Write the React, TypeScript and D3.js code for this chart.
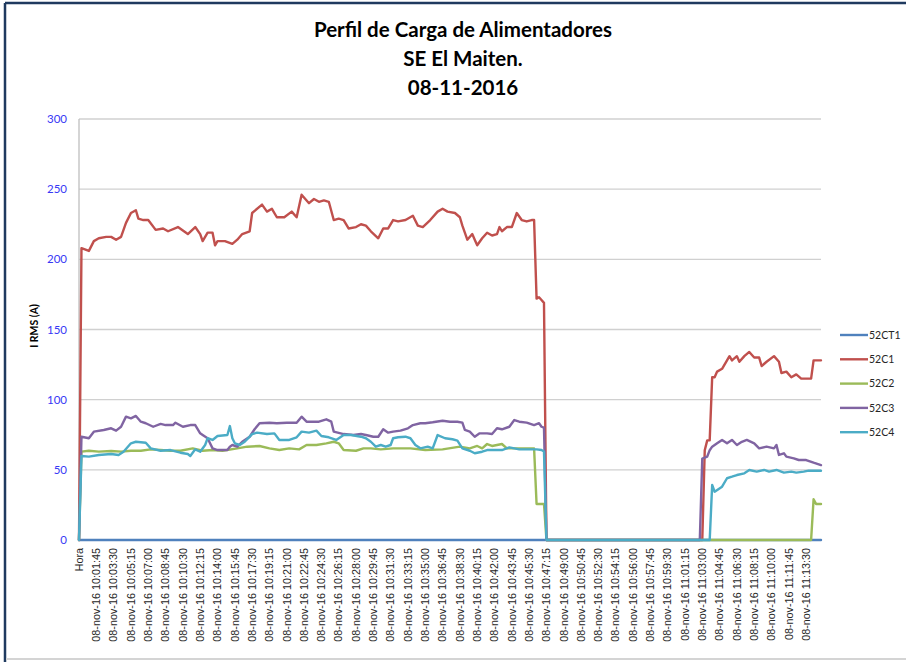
import * as d3 from "d3";

// Samples every 15 s; "Hora" is the header row that Excel plots as 0.
type Pt = [string, number];

const titleLines = ["Perfil de Carga de Alimentadores", "SE El Maiten.", "08-11-2016"];
const yTicks = [0, 50, 100, 150, 200, 250, 300];
const xLabels = [
  "Hora",
  "08-nov-16 10:01:45", "08-nov-16 10:03:30", "08-nov-16 10:05:15", "08-nov-16 10:07:00",
  "08-nov-16 10:08:45", "08-nov-16 10:10:30", "08-nov-16 10:12:15", "08-nov-16 10:14:00",
  "08-nov-16 10:15:45", "08-nov-16 10:17:30", "08-nov-16 10:19:15", "08-nov-16 10:21:00",
  "08-nov-16 10:22:45", "08-nov-16 10:24:30", "08-nov-16 10:26:15", "08-nov-16 10:28:00",
  "08-nov-16 10:29:45", "08-nov-16 10:31:30", "08-nov-16 10:33:15", "08-nov-16 10:35:00",
  "08-nov-16 10:36:45", "08-nov-16 10:38:30", "08-nov-16 10:40:15", "08-nov-16 10:42:00",
  "08-nov-16 10:43:45", "08-nov-16 10:45:30", "08-nov-16 10:47:15", "08-nov-16 10:49:00",
  "08-nov-16 10:50:45", "08-nov-16 10:52:30", "08-nov-16 10:54:15", "08-nov-16 10:56:00",
  "08-nov-16 10:57:45", "08-nov-16 10:59:30", "08-nov-16 11:01:15", "08-nov-16 11:03:00",
  "08-nov-16 11:04:45", "08-nov-16 11:06:30", "08-nov-16 11:08:15", "08-nov-16 11:10:00",
  "08-nov-16 11:11:45", "08-nov-16 11:13:30",
];
const lastSample = "11:15:00";

const s52CT1: Pt[] = [["Hora", 0], ["11:15:00", 0]];

const s52C1: Pt[] = [
  ["Hora", 0], ["10:00:15", 208], ["10:01:00", 206], ["10:01:30", 213], ["10:02:00", 215],
  ["10:02:45", 216], ["10:03:15", 216], ["10:03:45", 214], ["10:04:15", 216], ["10:04:45", 226],
  ["10:05:15", 233], ["10:05:45", 235], ["10:06:00", 229], ["10:06:30", 228], ["10:07:00", 228],
  ["10:07:45", 221], ["10:08:30", 222], ["10:09:00", 220], ["10:10:00", 223], ["10:11:00", 218],
  ["10:11:45", 223], ["10:12:15", 218], ["10:12:30", 213], ["10:13:00", 219], ["10:13:30", 219],
  ["10:13:45", 210], ["10:14:00", 213], ["10:14:45", 213], ["10:15:30", 211], ["10:16:00", 214],
  ["10:16:30", 218], ["10:17:15", 220], ["10:17:30", 233], ["10:18:30", 239], ["10:19:00", 234],
  ["10:19:30", 236], ["10:20:00", 230], ["10:20:45", 230], ["10:21:30", 234], ["10:22:00", 230],
  ["10:22:30", 246], ["10:23:15", 240], ["10:23:45", 243], ["10:24:15", 241], ["10:24:45", 242],
  ["10:25:15", 241], ["10:25:45", 228], ["10:26:15", 229], ["10:26:45", 228], ["10:27:15", 222],
  ["10:28:00", 223], ["10:28:30", 225], ["10:29:00", 224], ["10:29:30", 220], ["10:30:15", 215],
  ["10:30:45", 222], ["10:31:15", 222], ["10:31:45", 228], ["10:32:15", 227], ["10:33:00", 228],
  ["10:33:45", 231], ["10:34:15", 224], ["10:34:45", 223], ["10:35:30", 228], ["10:36:15", 234],
  ["10:36:45", 236], ["10:37:15", 234], ["10:38:00", 233], ["10:38:30", 230], ["10:38:45", 224],
  ["10:39:15", 214], ["10:39:45", 218], ["10:40:00", 214], ["10:40:15", 210], ["10:40:45", 215],
  ["10:41:15", 219], ["10:41:45", 217], ["10:42:15", 218], ["10:42:30", 223], ["10:42:45", 220],
  ["10:43:15", 223], ["10:43:45", 223], ["10:44:15", 233], ["10:44:45", 228], ["10:45:15", 227],
  ["10:45:45", 228], ["10:46:00", 228], ["10:46:15", 172], ["10:46:30", 173], ["10:46:45", 171],
  ["10:47:00", 169], ["10:47:15", 0], ["11:03:00", 0], ["11:03:15", 64], ["11:03:30", 71],
  ["11:03:45", 71], ["11:04:00", 116], ["11:04:15", 116], ["11:04:30", 120], ["11:05:00", 122],
  ["11:05:30", 128], ["11:05:45", 131], ["11:06:00", 128], ["11:06:30", 131], ["11:06:45", 127],
  ["11:07:15", 131], ["11:07:45", 134], ["11:08:15", 130], ["11:08:45", 130], ["11:09:00", 124],
  ["11:09:30", 127], ["11:10:15", 131], ["11:10:45", 127], ["11:11:00", 119], ["11:11:30", 120],
  ["11:12:00", 116], ["11:12:30", 118], ["11:13:00", 115], ["11:13:30", 115], ["11:14:00", 115],
  ["11:14:15", 128], ["11:15:00", 128],
];

const s52C2: Pt[] = [
  ["Hora", 0], ["10:00:15", 63], ["10:01:00", 63.6], ["10:02:00", 63], ["10:03:15", 63.4],
  ["10:04:15", 63], ["10:05:15", 63.6], ["10:06:15", 63.6], ["10:07:15", 64.6], ["10:08:15", 64.1],
  ["10:09:15", 63.6], ["10:10:15", 63.6], ["10:11:30", 65.3], ["10:12:30", 63.6], ["10:13:30", 64.1],
  ["10:14:30", 63.6], ["10:16:00", 65.3], ["10:17:00", 66.5], ["10:18:15", 67], ["10:19:15", 65.3],
  ["10:20:15", 64.1], ["10:21:15", 65.3], ["10:22:15", 64.6], ["10:23:00", 67.7], ["10:24:00", 67.7],
  ["10:25:00", 68.9], ["10:25:45", 70], ["10:26:15", 68.9], ["10:26:45", 64.1], ["10:28:00", 63.6],
  ["10:28:45", 65.3], ["10:29:30", 65.3], ["10:30:30", 64.6], ["10:31:45", 65.3], ["10:33:30", 65.3],
  ["10:35:00", 64.1], ["10:36:45", 64.6], ["10:38:30", 66.5], ["10:39:30", 65.3], ["10:40:15", 67],
  ["10:40:45", 65.3], ["10:41:15", 68.4], ["10:41:45", 67], ["10:42:45", 68.4], ["10:43:15", 65.3],
  ["10:44:15", 65.3], ["10:46:00", 65.3], ["10:46:15", 25.7], ["10:47:00", 25.7], ["10:47:15", 0],
  ["11:14:00", 0], ["11:14:15", 29], ["11:14:30", 25.7], ["11:15:00", 25.7],
];

const s52C3: Pt[] = [
  ["Hora", 0], ["10:00:15", 73.6], ["10:01:00", 72.5], ["10:01:30", 77.2], ["10:02:30", 78.4],
  ["10:03:15", 79.6], ["10:03:45", 77.9], ["10:04:15", 80.7], ["10:04:45", 87.9], ["10:05:15", 86.7],
  ["10:05:45", 88.4], ["10:06:15", 84.3], ["10:06:45", 83.2], ["10:07:30", 80.7], ["10:08:15", 82.7],
  ["10:08:45", 81.9], ["10:09:30", 81.9], ["10:09:45", 83.6], ["10:10:30", 80.7], ["10:11:15", 81.9],
  ["10:11:45", 81.9], ["10:12:15", 76], ["10:12:30", 74.8], ["10:13:00", 72.5], ["10:13:30", 65.3],
  ["10:14:00", 64.1], ["10:15:00", 64.1], ["10:15:15", 66.5], ["10:15:30", 67.7], ["10:16:00", 66.5],
  ["10:16:30", 70], ["10:17:15", 73.6], ["10:17:45", 78.9], ["10:18:15", 83.2], ["10:19:15", 83.6],
  ["10:20:00", 83.2], ["10:21:00", 83.6], ["10:22:00", 83.6], ["10:22:30", 87.9], ["10:23:00", 84.3],
  ["10:23:45", 84.3], ["10:24:15", 84.3], ["10:25:00", 86], ["10:25:30", 84.3], ["10:25:45", 77.2],
  ["10:26:45", 75.5], ["10:27:45", 74.8], ["10:28:30", 75.5], ["10:29:00", 74.8], ["10:29:45", 73.6],
  ["10:30:15", 73.6], ["10:30:45", 78.9], ["10:31:15", 76.5], ["10:31:45", 77.2], ["10:32:30", 77.9],
  ["10:33:15", 79.6], ["10:33:45", 81.9], ["10:34:30", 83.2], ["10:35:00", 83.2], ["10:35:45", 83.9],
  ["10:36:45", 85], ["10:37:30", 84.3], ["10:38:15", 84.3], ["10:38:45", 83.6], ["10:39:00", 78.4],
  ["10:39:30", 77.2], ["10:40:00", 73.6], ["10:40:30", 76], ["10:41:15", 76], ["10:41:45", 75.5],
  ["10:42:15", 79.6], ["10:42:45", 78.9], ["10:43:30", 80.7], ["10:44:00", 85.5], ["10:44:30", 84.3],
  ["10:45:15", 83.6], ["10:46:00", 81.9], ["10:46:30", 83.2], ["10:46:45", 80.7], ["10:47:00", 80],
  ["10:47:15", 0], ["11:02:45", 0], ["11:03:00", 58], ["11:03:30", 59.4], ["11:03:45", 64],
  ["11:04:00", 66.5], ["11:04:30", 68.9], ["11:05:00", 71.3], ["11:05:30", 68.9], ["11:06:00", 71.3],
  ["11:06:30", 67.7], ["11:07:00", 70], ["11:07:30", 71.3], ["11:08:15", 68.9], ["11:08:45", 65.3],
  ["11:09:30", 66.5], ["11:10:15", 65.3], ["11:10:30", 67.7], ["11:10:45", 60.6], ["11:11:15", 61.8],
  ["11:11:30", 59.4], ["11:12:15", 58.2], ["11:12:45", 57], ["11:13:30", 57], ["11:14:15", 55.1],
  ["11:15:00", 53.4],
];

const s52C4: Pt[] = [
  ["Hora", 0], ["10:00:15", 59.9], ["10:01:00", 59.4], ["10:02:00", 60.6], ["10:03:15", 61.3],
  ["10:04:00", 60.6], ["10:04:30", 62.9], ["10:05:15", 68.9], ["10:05:45", 70], ["10:06:45", 69.3],
  ["10:07:15", 65.3], ["10:08:15", 63.6], ["10:09:15", 64.1], ["10:10:15", 62.2], ["10:11:00", 61.3],
  ["10:11:15", 59.9], ["10:11:45", 64.6], ["10:12:15", 62.9], ["10:12:45", 67.7], ["10:13:00", 72.5],
  ["10:13:30", 71.3], ["10:14:00", 74.1], ["10:15:00", 74.8], ["10:15:15", 81.2], ["10:15:30", 72.5],
  ["10:15:45", 68.9], ["10:16:15", 67.7], ["10:16:45", 70], ["10:17:30", 75.5], ["10:18:00", 76.5],
  ["10:19:00", 75.5], ["10:19:45", 76], ["10:20:15", 71.3], ["10:21:15", 71.3], ["10:22:00", 73.2],
  ["10:22:30", 77.2], ["10:23:15", 76.5], ["10:24:00", 77.9], ["10:24:30", 74.1], ["10:25:15", 73.2],
  ["10:26:00", 71.3], ["10:26:45", 74.8], ["10:27:30", 74.8], ["10:28:30", 73.6], ["10:29:00", 72.5],
  ["10:29:30", 70], ["10:30:00", 66.5], ["10:30:30", 67.7], ["10:31:00", 66.5], ["10:31:30", 67.7],
  ["10:31:45", 72.5], ["10:32:15", 73.2], ["10:33:00", 73.6], ["10:33:30", 72.5], ["10:34:00", 67.7],
  ["10:34:30", 65.3], ["10:35:15", 66.5], ["10:35:45", 65.3], ["10:36:15", 74.8], ["10:37:00", 72.5],
  ["10:37:45", 71.8], ["10:38:15", 70.8], ["10:38:45", 65.3], ["10:39:30", 63.6], ["10:40:00", 61.8],
  ["10:40:45", 62.9], ["10:41:15", 64.1], ["10:42:00", 64.1], ["10:42:45", 64.1], ["10:43:30", 66],
  ["10:44:30", 64.6], ["10:45:15", 64.6], ["10:46:15", 64.6], ["10:46:45", 64.1], ["10:47:00", 63],
  ["10:47:15", 0], ["11:03:45", 0], ["11:04:00", 39.2], ["11:04:15", 34.4], ["11:05:00", 38],
  ["11:05:30", 44], ["11:06:00", 45.1], ["11:06:30", 46.3], ["11:07:15", 47.5], ["11:07:45", 49.9],
  ["11:08:30", 48.7], ["11:09:15", 49.9], ["11:09:45", 48.7], ["11:10:30", 49.9], ["11:11:15", 48],
  ["11:12:00", 48.7], ["11:12:30", 48], ["11:13:15", 48.7], ["11:13:45", 49.4], ["11:14:30", 49.4],
  ["11:15:00", 49.4],
];

const seriesNames = ["52CT1", "52C1", "52C2", "52C3", "52C4"];
const seriesData = [s52CT1, s52C1, s52C2, s52C3, s52C4];
const seriesColors = ["#4F81BD", "#C0504D", "#9BBB59", "#8064A2", "#4BACC6"];

// seconds after 10:00:00 ("Hora" sits at 0)
function toSec(label: string) {
  const m = label.match(/(\d+):(\d+):(\d+)/);
  if (!m) return 0;
  return (+m[1] - 10) * 3600 + +m[2] * 60 + +m[3];
}

export default function App() {
  const width = 906;
  const height = 662;
  const margin = { top: 119, right: 85, bottom: 122, left: 79 };

  const x = d3
    .scaleLinear()
    .domain([0, toSec(lastSample)])
    .range([margin.left, width - margin.right]);
  const y = d3
    .scaleLinear()
    .domain([0, 300])
    .range([height - margin.bottom, margin.top]);

  const line = d3
    .line<Pt>()
    .x((d) => x(toSec(d[0])))
    .y((d) => y(d[1]));

  const calibri = "Lato, 'Open Sans', sans-serif";

  return (
    <svg
      width={width}
      height={height}
      style={{ position: "absolute", left: 0, top: 0, background: "#fff" }}
    >
      {/* frame */}
      <line x1={5} x2={width} y1={3} y2={3} stroke="#1F3A5F" strokeWidth={2.5} />
      <line x1={5} x2={5} y1={3} y2={height} stroke="#1F3A5F" strokeWidth={2.5} />
      <line x1={6} x2={width} y1={659} y2={659} stroke="#D4D4D4" strokeWidth={2} />

      {titleLines.map((t, i) => (
        <text
          key={t}
          x={463}
          y={37 + i * 29}
          textAnchor="middle"
          fontFamily={calibri}
          fontWeight="bold"
          fontSize={20.5}
          fill="#000"
        >
          {t}
        </text>
      ))}

      {/* grid */}
      {yTicks.map((v) => (
        <g key={v}>
          {v > 0 && (
            <line
              x1={margin.left}
              x2={width - margin.right}
              y1={y(v)}
              y2={y(v)}
              stroke="#D0D0D0"
              strokeWidth={1.3}
            />
          )}
          <text
            x={67}
            y={y(v)}
            dy="0.35em"
            textAnchor="end"
            fontFamily={calibri}
            fontSize={11.5}
            fill="#3838F5"
          >
            {v}
          </text>
        </g>
      ))}
      <line
        x1={margin.left}
        x2={margin.left}
        y1={y(300)}
        y2={y(0)}
        stroke="#BFBFBF"
        strokeWidth={1.3}
      />
      <line
        x1={margin.left}
        x2={width - margin.right}
        y1={y(0)}
        y2={y(0)}
        stroke="#BFBFBF"
        strokeWidth={1.3}
      />

      <text
        transform="translate(34,326) rotate(-90)"
        textAnchor="middle"
        dy="0.35em"
        fontFamily={calibri}
        fontWeight="bold"
        fontSize={10.5}
        fill="#000"
      >
        I RMS (A)
      </text>

      {/* category labels */}
      {xLabels.map((l) => (
        <text
          key={l}
          transform={`translate(${x(toSec(l))},${y(0) + 8}) rotate(-90)`}
          dy="0.35em"
          textAnchor="end"
          fontFamily="'Liberation Sans', Arial, sans-serif"
          fontSize={10.8}
          fill="#262626"
        >
          {l}
        </text>
      ))}

      {/* series */}
      {seriesData.map((d, i) => (
        <path
          key={seriesNames[i]}
          d={line(d) ?? ""}
          fill="none"
          stroke={seriesColors[i]}
          strokeWidth={2.4}
          strokeLinejoin="round"
          strokeLinecap="round"
        />
      ))}

      {/* legend */}
      {seriesNames.map((n, i) => (
        <g key={n} transform={`translate(840,${335 + i * 24.3})`}>
          <line x1={0} x2={28} y1={0} y2={0} stroke={seriesColors[i]} strokeWidth={2.4} />
          <text x={29} y={0} dy="0.35em" fontFamily={calibri} fontSize={10.5} fill="#262626">
            {n}
          </text>
        </g>
      ))}
    </svg>
  );
}
